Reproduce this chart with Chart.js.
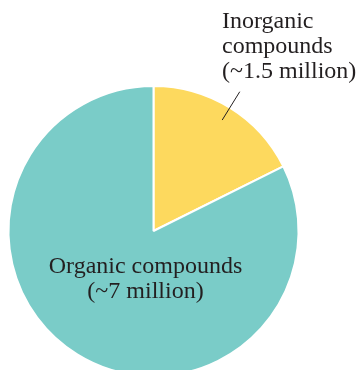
<!DOCTYPE html>
<html>
<head>
<meta charset="utf-8">
<script src="https://cdn.jsdelivr.net/npm/chart.js@4/dist/chart.umd.min.js"></script>
<style>
  html, body { margin: 0; padding: 0; background: #fff; }
  #wrap { width: 359px; height: 370px; overflow: hidden; position: relative; }
</style>
</head>
<body>
<div id="wrap"><canvas id="myChart" width="359" height="390"></canvas></div>
<script>
const categories = ['Inorganic compounds', 'Organic compounds'];
const counts = [1.5, 7]; // millions of known compounds
const labelLines = [
    ['Inorganic', 'compounds', '(~1.5 million)'],
    ['Organic compounds', '(~7 million)']
];
const colors = ['rgb(253, 217, 94)', 'rgb(122, 204, 200)'];

const textColor = '#231f20';
const font = '24px "Liberation Serif", "DejaVu Serif", serif';

const labelPlugin = {
    id: 'pieLabels',
    afterDraw(chart) {
        const ctx = chart.ctx;
        const arcs = chart.getDatasetMeta(0).data;
        const inorg = arcs[0];
        const cx = inorg.x, cy = inorg.y, r = inorg.outerRadius;
        ctx.save();
        ctx.font = font;
        ctx.fillStyle = textColor;
        ctx.textBaseline = 'alphabetic';

        // outside label for the small slice, with a leader line
        ctx.textAlign = 'left';
        labelLines[0].forEach((t, i) => ctx.fillText(t, 222, 28 + i * 25));
        const mid = (inorg.startAngle + inorg.endAngle) / 2;
        ctx.strokeStyle = textColor;
        ctx.lineWidth = 1;
        ctx.beginPath();
        ctx.moveTo(cx + Math.cos(mid) * r * 0.9, cy + Math.sin(mid) * r * 0.9);
        ctx.lineTo(cx + Math.cos(mid) * r * 1.13, cy + Math.sin(mid) * r * 1.13);
        ctx.stroke();

        // inside label for the large slice
        ctx.textAlign = 'center';
        labelLines[1].forEach((t, i) => ctx.fillText(t, cx - 8, cy + 42 + i * 25));
        ctx.restore();
    }
};

const config = {
    type: 'pie',
    data: {
        labels: categories,
        datasets: [{
            data: counts,
            backgroundColor: colors,
            borderColor: '#ffffff',
            borderWidth: 2
        }]
    },
    options: {
        responsive: false,
        animation: false,
        layout: {
            padding: { left: 7.5, top: 85, right: 59.5, bottom: 13 }
        },
        plugins: {
            legend: { display: false },
            tooltip: { enabled: false }
        }
    },
    plugins: [labelPlugin]
};

new Chart(document.getElementById('myChart'), config);
</script>
</body>
</html>
